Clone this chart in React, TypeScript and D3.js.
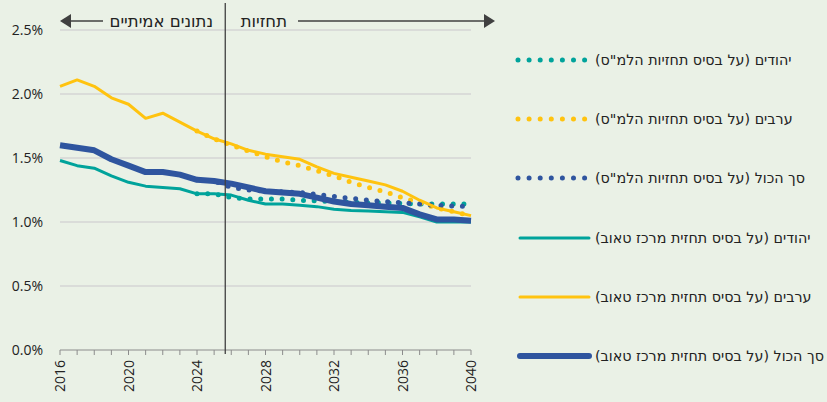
import React from "react";
import * as d3 from "d3";

const years = d3.range(2016, 2041);
const jewsTaub = [1.48, 1.44, 1.42, 1.36, 1.31, 1.28, 1.27, 1.26, 1.22, 1.22, 1.21, 1.17, 1.14, 1.14, 1.13, 1.12, 1.10, 1.09, 1.085, 1.08, 1.075, 1.04, 1.0, 1.0, 1.0];
const arabsTaub = [2.06, 2.11, 2.06, 1.97, 1.92, 1.81, 1.85, 1.78, 1.71, 1.65, 1.61, 1.56, 1.53, 1.51, 1.49, 1.43, 1.38, 1.35, 1.32, 1.29, 1.24, 1.17, 1.11, 1.08, 1.05];
const totalTaub = [1.60, 1.58, 1.56, 1.49, 1.44, 1.39, 1.39, 1.37, 1.33, 1.32, 1.30, 1.27, 1.24, 1.23, 1.22, 1.19, 1.16, 1.14, 1.13, 1.12, 1.11, 1.06, 1.02, 1.02, 1.01];

const cbsYears = d3.range(2024, 2041);
const jewsCbs = [1.22, 1.22, 1.19, 1.18, 1.18, 1.18, 1.17, 1.165, 1.16, 1.155, 1.15, 1.15, 1.145, 1.14, 1.14, 1.14, 1.14];
const arabsCbs = [1.71, 1.65, 1.60, 1.555, 1.51, 1.47, 1.44, 1.40, 1.36, 1.31, 1.27, 1.235, 1.19, 1.15, 1.11, 1.08, 1.05];
const totalCbs = [1.33, 1.32, 1.27, 1.25, 1.24, 1.235, 1.23, 1.215, 1.20, 1.185, 1.17, 1.16, 1.15, 1.14, 1.13, 1.125, 1.12];

const yTicks = [0, 0.5, 1.0, 1.5, 2.0, 2.5];
const xLabelYears = [2016, 2020, 2024, 2028, 2032, 2036, 2040];
const splitYear = 2025.65;

const legendLabels = [
  'יהודים (על בסיס תחזיות הלמ"ס)',
  'ערבים (על בסיס תחזיות הלמ"ס)',
  'סך הכול (על בסיס תחזיות הלמ"ס)',
  "יהודים (על בסיס תחזית מרכז טאוב)",
  "ערבים (על בסיס תחזית מרכז טאוב)",
  "סך הכול (על בסיס תחזית מרכז טאוב)",
];

const TEAL = "#00A39B";
const YELLOW = "#FFC30F";
const BLUE = "#2F559F";
const FONT = "'Open Sans', 'Liberation Sans', sans-serif";
const HEB_FONT = "'DejaVu Sans', sans-serif";

export default function App() {
  const W = 827, H = 402;
  const x = d3.scaleLinear().domain([2016, 2040]).range([60, 471]);
  const y = d3.scaleLinear().domain([0, 2.5]).range([350, 30]);
  const line = d3
    .line<[number, number]>()
    .x((d) => x(d[0]))
    .y((d) => y(d[1]))
    .curve(d3.curveLinear);
  const pts = (ys: number[], vs: number[]) => ys.map((yr, i) => [yr, vs[i]] as [number, number]);

  const dotted = [
    { v: jewsCbs, c: TEAL },
    { v: arabsCbs, c: YELLOW },
    { v: totalCbs, c: BLUE },
  ];
  const solid = [
    { v: jewsTaub, c: TEAL, w: 3 },
    { v: arabsTaub, c: YELLOW, w: 3 },
    { v: totalTaub, c: BLUE, w: 6 },
  ];
  const legendColors = [TEAL, YELLOW, BLUE, TEAL, YELLOW, BLUE];
  const legendY = [60, 119, 178, 238, 297, 356];
  const vx = x(splitYear);

  return (
    <svg width={W} height={H} style={{ position: "absolute", left: 0, top: 0, display: "block" }} fontFamily={FONT}>
      <rect width={W} height={H} fill="#EAF1E6" />
      {yTicks.slice(1).map((t) => (
        <line key={t} x1={60} x2={471} y1={y(t)} y2={y(t)} stroke="#D4D4D4" strokeWidth={1.5} />
      ))}
      {yTicks.map((t) => (
        <text key={t} x={43} y={y(t)} dy="0.35em" textAnchor="end" fontSize={14} fill="#222">
          {t.toFixed(1) + "%"}
        </text>
      ))}
      <line x1={60} x2={471} y1={350} y2={350} stroke="#8C8C8C" strokeWidth={1} />
      {years.map((yr) => (
        <line key={yr} x1={x(yr)} x2={x(yr)} y1={350} y2={355} stroke="#8C8C8C" strokeWidth={1} />
      ))}
      {xLabelYears.map((yr) => (
        <text key={yr} transform={`translate(${x(yr) + 5},360) rotate(-90)`} textAnchor="end" fontSize={14} fill="#222">
          {yr}
        </text>
      ))}
      {dotted.map((s, i) => (
        <path key={i} d={line(pts(cbsYears, s.v)) || ""} fill="none" stroke={s.c} strokeWidth={5} strokeLinecap="round" strokeDasharray="0 10.7" />
      ))}
      {solid.map((s, i) => (
        <path key={i} d={line(pts(years, s.v)) || ""} fill="none" stroke={s.c} strokeWidth={s.w} strokeLinejoin="round" />
      ))}
      <line x1={vx} x2={vx} y1={3} y2={354} stroke="#404040" strokeWidth={1.3} />
      <line x1={70} x2={103} y1={21} y2={21} stroke="#404040" strokeWidth={1.5} />
      <path d="M60,21 L71,14 L71,28 Z" fill="#404040" />
      <line x1={298} x2={485} y1={21} y2={21} stroke="#404040" strokeWidth={1.5} />
      <path d="M495,21 L484,14 L484,28 Z" fill="#404040" />
      <text x={213} y={21} dy="0.35em" direction="rtl" textAnchor="start" fontSize={16.5} fill="#222" fontFamily={HEB_FONT}>
        נתונים אמיתיים
      </text>
      <text x={287} y={21} dy="0.35em" direction="rtl" textAnchor="start" fontSize={16.5} fill="#222" fontFamily={HEB_FONT}>
        תחזיות
      </text>
      {legendLabels.map((lab, i) => (
        <g key={i}>
          {i < 3 ? (
            <line x1={518} x2={586} y1={legendY[i]} y2={legendY[i]} stroke={legendColors[i]} strokeWidth={5} strokeLinecap="round" strokeDasharray="0 11.1" />
          ) : (
            <line x1={520} x2={589} y1={legendY[i]} y2={legendY[i]} stroke={legendColors[i]} strokeWidth={i === 5 ? 6 : 3} strokeLinecap="round" />
          )}
          <text x={595} y={legendY[i]} dy="0.35em" direction="rtl" textAnchor="end" fontSize={14.3} fill="#222" fontFamily={HEB_FONT}>
            {lab}
          </text>
        </g>
      ))}
    </svg>
  );
}
